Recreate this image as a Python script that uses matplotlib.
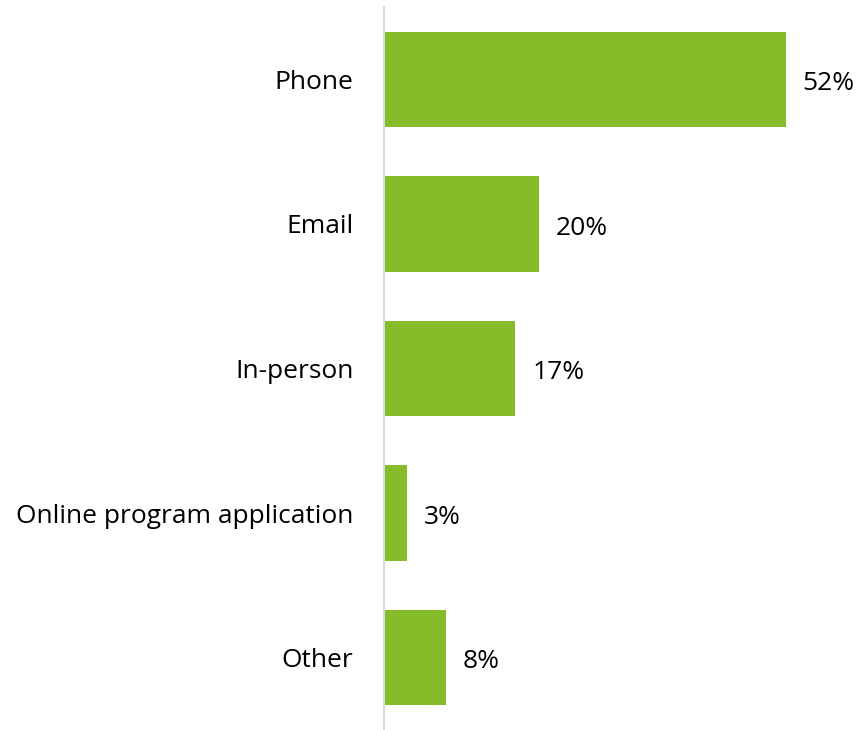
import matplotlib.pyplot as plt

# contact channel shares
channels = ["Phone", "Email", "In-person", "Online program application", "Other"]
shares = [52, 20, 17, 3, 8]

BAR_COLOR = "#86bc29"

plt.rcParams["font.family"] = ["Open Sans", "DejaVu Sans"]

fig = plt.figure(figsize=(8.61, 7.30), dpi=100)
ax = fig.add_axes([384 / 861, 0, 464 / 861, 723 / 730])

ypos = range(len(channels))
ax.barh(ypos, shares, height=0.66, color=BAR_COLOR)

# value labels just past the bar ends
for y, v in zip(ypos, shares):
    ax.annotate(f"{v}%", (v, y), xytext=(12, -3), textcoords="offset points",
                va="center", ha="left", fontsize=19, color="black")

ax.set_xlim(0, 60)
ax.set_ylim(len(channels) - 0.5, -0.5)
ax.set_yticks(list(ypos))
ax.set_yticklabels(channels, fontsize=19, color="black")
ax.tick_params(axis="y", length=0, pad=22)
ax.set_xticks([])

for side in ["top", "right", "bottom"]:
    ax.spines[side].set_visible(False)
ax.spines["left"].set_color("#d9d9d9")
ax.spines["left"].set_linewidth(1.5)

fig.savefig("out.png", dpi=100)
